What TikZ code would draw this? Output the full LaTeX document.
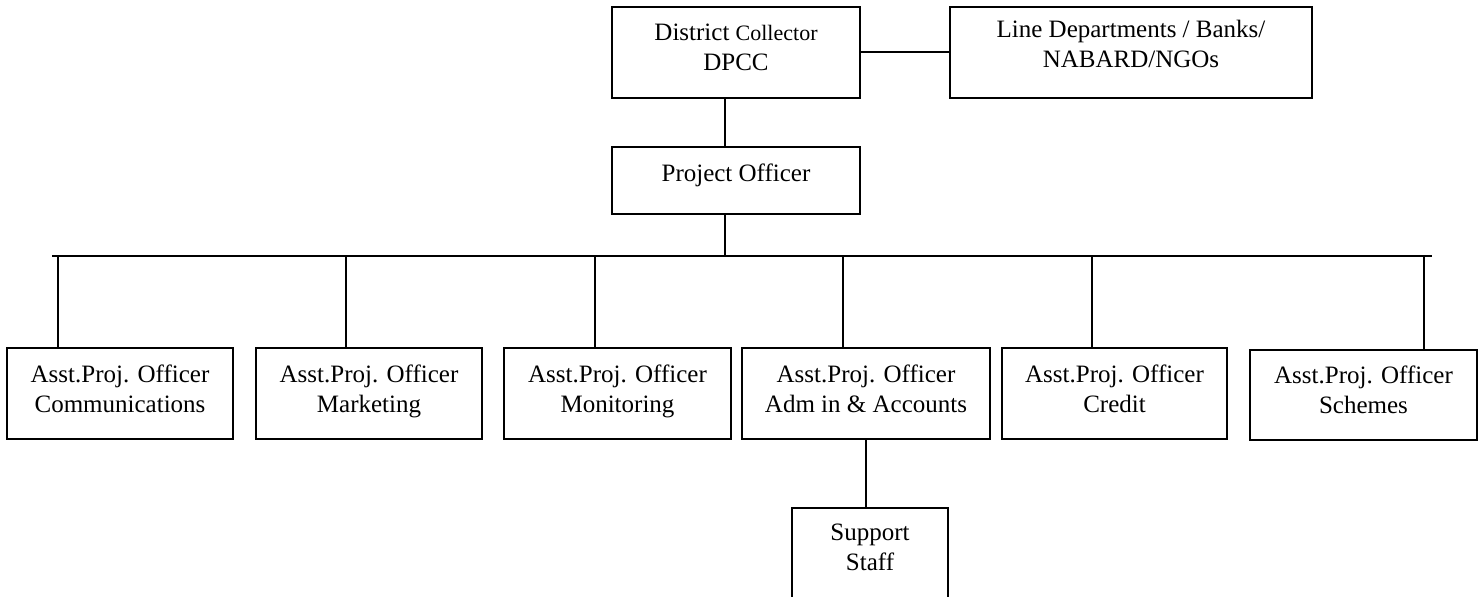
\documentclass[tikz,border=0pt]{standalone}
\usepackage{fontspec}
\setmainfont{Liberation Serif}
\begin{document}
\begin{tikzpicture}[x=0.5pt,y=-0.5pt,
  box/.style={draw, line width=1pt, rectangle, inner sep=0pt, outer sep=0pt},
  txt/.style={font=\fontsize{12.5}{15}\selectfont, align=center, inner sep=0pt, text depth=0pt},
  conn/.style={line width=1pt}]
\useasboundingbox (0,0) rectangle (1484,597);
% top level
\node[box, minimum width=124pt, minimum height=45.5pt,
  label={[txt,yshift=2.5pt]center:{District {\fontsize{11}{15}\selectfont Collector}\\DPCC}}] (dc) at (736,52.5) {};
\node[box, minimum width=181pt, minimum height=45.5pt,
  label={[txt,yshift=4.5pt]center:{Line Departments / Banks/\\NABARD/NGOs}}] (ld) at (1131,52.5) {};
\node[box, minimum width=124pt, minimum height=33.5pt,
  label={[txt,yshift=4pt]center:{Project Officer}}] (po) at (736,180.5) {};
% bottom level
\node[box, minimum width=113pt, minimum height=45.5pt,
  label={[txt,yshift=2.5pt]center:{Asst.Proj. Officer\\Communications}}] (b1) at (120,393.5) {};
\node[box, minimum width=113pt, minimum height=45.5pt,
  label={[txt,yshift=2.5pt]center:{Asst.Proj. Officer\\Marketing}}] (b2) at (369,393.5) {};
\node[box, minimum width=113.5pt, minimum height=45.5pt,
  label={[txt,yshift=2.5pt]center:{Asst.Proj. Officer\\Monitoring}}] (b3) at (617.5,393.5) {};
\node[box, minimum width=124pt, minimum height=45.5pt,
  label={[txt,yshift=2.5pt]center:{Asst.Proj. Officer\\Adm in \& Accounts}}] (b4) at (866,393.5) {};
\node[box, minimum width=112.5pt, minimum height=45.5pt,
  label={[txt,yshift=2.5pt]center:{Asst.Proj. Officer\\Credit}}] (b5) at (1114.5,393.5) {};
\node[box, minimum width=113.5pt, minimum height=45pt,
  label={[txt,yshift=2.5pt]center:{Asst.Proj. Officer\\Schemes}}] (b6) at (1363.5,395) {};
\node[box, minimum width=78pt, minimum height=56pt,
  label={[txt,yshift=8.25pt]center:{Support\\Staff}}] (ss) at (870,564) {};
% connectors
\coordinate (xpo) at (725,0);
\coordinate (busL) at (52,256);
\coordinate (busR) at (1432,256);
\coordinate (d1) at (58,256);
\coordinate (d2) at (346,256);
\coordinate (d3) at (595,256);
\coordinate (d4) at (843,256);
\coordinate (d5) at (1092,256);
\coordinate (d6) at (1424,256);
\draw[conn] (dc.east) -- (ld.west);
\draw[conn] (dc.south -| xpo) -- (po.north -| xpo);
\draw[conn] (po.south -| xpo) -- (xpo |- busL);
\draw[conn] (busL) -- (busR);
\draw[conn] (d1) -- (b1.north -| d1);
\draw[conn] (d2) -- (b2.north -| d2);
\draw[conn] (d3) -- (b3.north -| d3);
\draw[conn] (d4) -- (b4.north -| d4);
\draw[conn] (d5) -- (b5.north -| d5);
\draw[conn] (d6) -- (b6.north -| d6);
\draw[conn] (b4.south) -- (b4.south |- ss.north);
\end{tikzpicture}
\end{document}
